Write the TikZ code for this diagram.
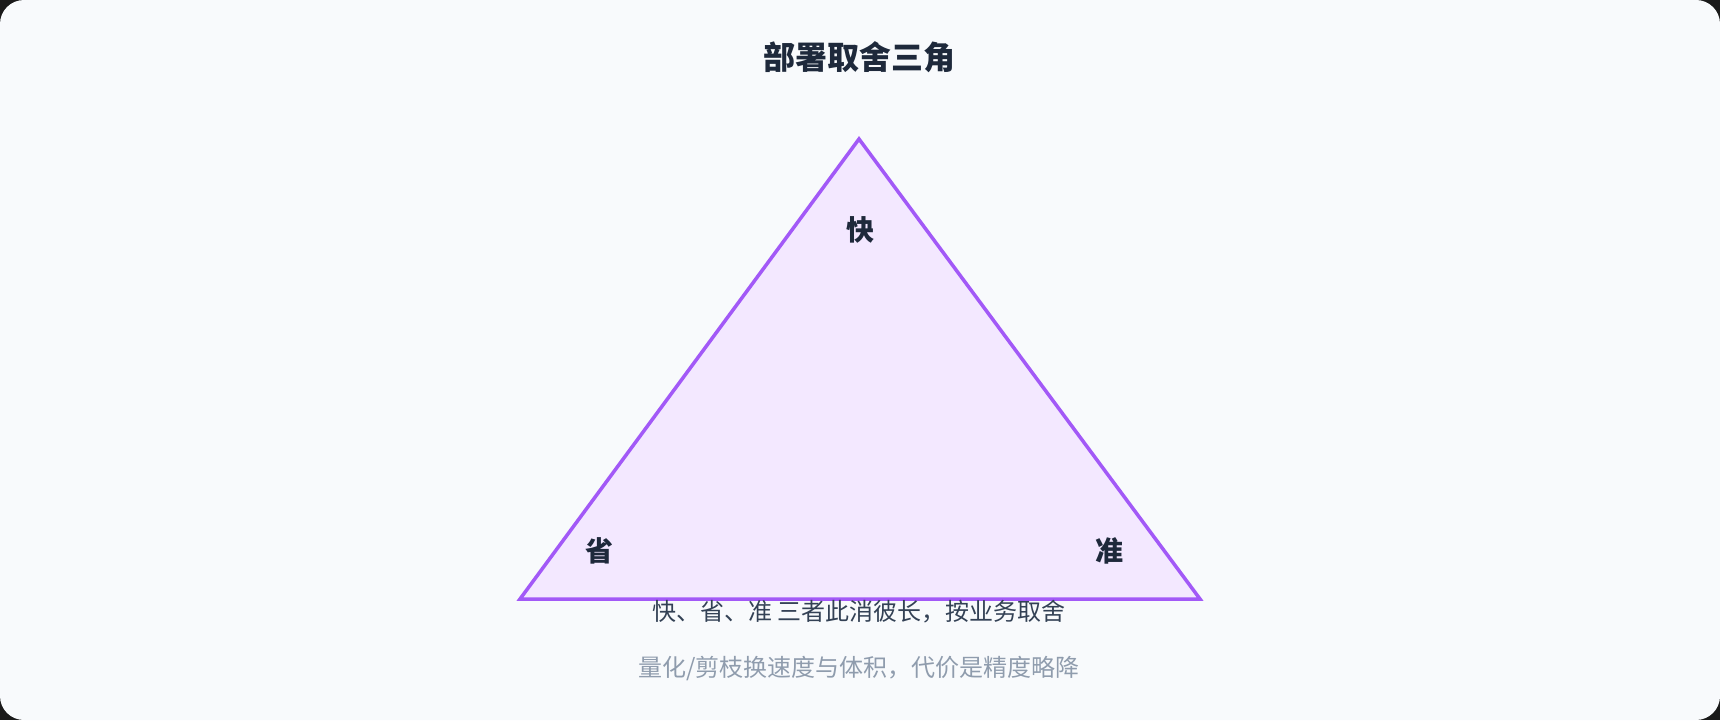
\documentclass[tikz,border=0pt]{standalone}
\usepackage{fontspec}
\setmainfont{Noto Sans CJK SC}
\newfontfamily\cjk{Noto Sans CJK SC}
\definecolor{outerbg}{HTML}{1A1A1A}
\definecolor{bg}{HTML}{F8FAFC}
\definecolor{trifill}{HTML}{F3E8FF}
\definecolor{tristroke}{HTML}{A259F7}
\definecolor{ink}{HTML}{1E293B}
\definecolor{sub}{HTML}{334155}
\definecolor{mute}{HTML}{8F9CAD}
\tikzset{
  cornerlabel/.style={font=\cjk\bfseries\fontsize{28}{32}\selectfont, text=ink, inner sep=0pt},
  titlestyle/.style={font=\cjk\bfseries\fontsize{32}{38}\selectfont, text=ink, inner sep=0pt},
  captext/.style={font=\cjk\fontsize{24}{28}\selectfont, text=sub, inner sep=0pt},
  capmute/.style={font=\cjk\fontsize{24}{28}\selectfont, text=mute, inner sep=0pt},
}
\begin{document}
\begin{tikzpicture}[x=1pt,y=-1pt]
\fill[outerbg] (0,0) rectangle (1720,720);
\fill[bg, rounded corners=24pt] (0,0) rectangle (1720,720);
\useasboundingbox (0,0) rectangle (1720,720);
\node[titlestyle] (title) at (859,57) {部署取舍三角};
\coordinate (top) at (859,139);
\coordinate (bl) at (520,599);
\coordinate (br) at (1200,599);
\draw[tristroke, fill=trifill, line width=3.5pt, line join=miter] (top) -- (br) -- (bl) -- cycle;
\node[cornerlabel] (fast) at (860,230) {快};
\node[cornerlabel] (cheap) at (599,551) {省};
\node[cornerlabel] (acc) at (1109,551) {准};
\node[captext] (cap1) at (859,612) {快、省、准 三者此消彼长，按业务取舍};
\node[capmute] (cap2) at (859,668) {量化/剪枝换速度与体积，代价是精度略降};
\end{tikzpicture}
\end{document}
